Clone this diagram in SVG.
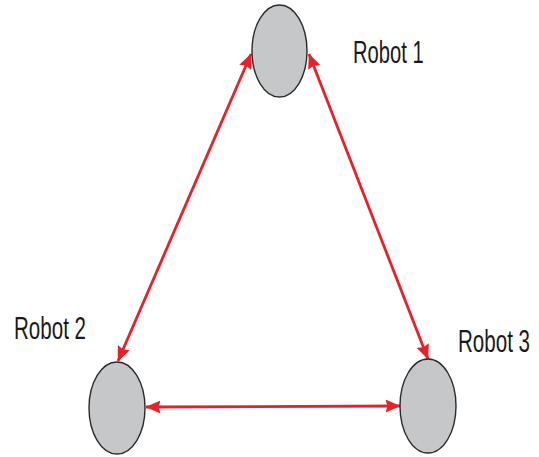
<svg xmlns="http://www.w3.org/2000/svg" width="539" height="457" viewBox="0 0 539 457">
<style>
.robot{fill:#c6c7c9;stroke:#2a2a2a;stroke-width:1.4}
.lbl{font-family:"Liberation Sans",Arial,sans-serif;font-size:32px;fill:#1a1a1a}
.link{stroke:#e8202a;stroke-width:2.8;fill:none;marker-start:url(#ah);marker-end:url(#ah)}
</style>
<defs>
<marker id="ah" viewBox="0 0 15 13" refX="14.5" refY="6.5" markerWidth="15" markerHeight="13" markerUnits="userSpaceOnUse" orient="auto-start-reverse">
<path d="M0,0 L15,6.5 L0,13 L2,6.5 Z" fill="#e8202a"/>
</marker>
</defs>
<g id="connectors">
<line class="link" x1="251" y1="54" x2="118" y2="361"/>
<line class="link" x1="309" y1="54" x2="428" y2="359"/>
<line class="link" x1="146" y1="407" x2="400" y2="406"/>
</g>
<g id="robot1">
<ellipse class="robot" cx="279.5" cy="51" rx="27.5" ry="46"/>
<text class="lbl" transform="translate(353,63) scale(0.63,1)">Robot 1</text>
</g>
<g id="robot2">
<ellipse class="robot" cx="117" cy="408" rx="28" ry="46"/>
<text class="lbl" transform="translate(14,339) scale(0.643,1)">Robot 2</text>
</g>
<g id="robot3">
<ellipse class="robot" cx="428" cy="406" rx="28" ry="47"/>
<text class="lbl" transform="translate(458,352) scale(0.643,1)">Robot 3</text>
</g>
</svg>
